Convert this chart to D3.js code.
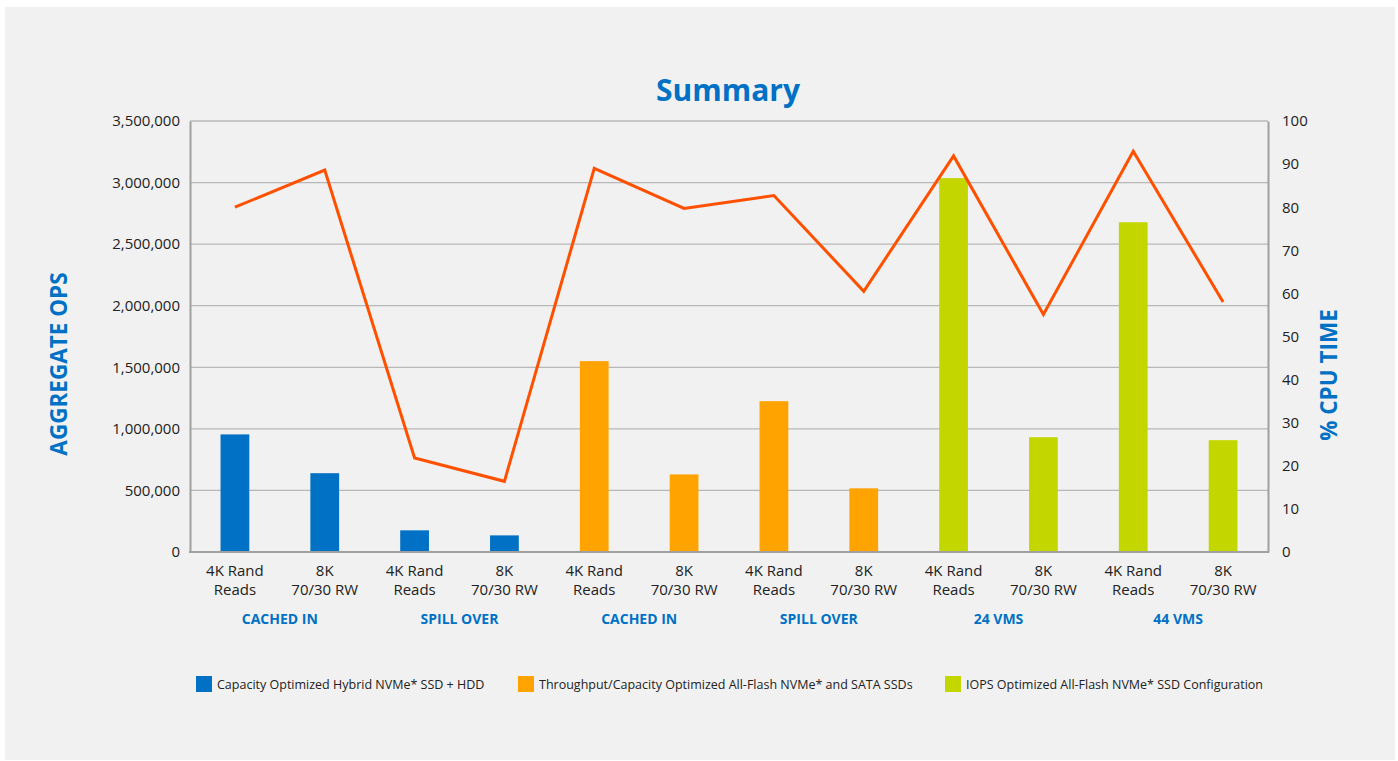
<!DOCTYPE html>
<html>
<head>
<meta charset="utf-8">
<script src="https://cdn.jsdelivr.net/npm/d3@7"></script>
<style>
  body { margin: 0; background: #fff; }
  svg text { font-family: "Open Sans", "Noto Sans", sans-serif; }
</style>
</head>
<body>
<svg id="chart" width="1398" height="761"></svg>
<script>
// tests and groups along the bottom
var tests = ['4K Rand|Reads', '8K|70/30 RW', '4K Rand|Reads', '8K|70/30 RW',
             '4K Rand|Reads', '8K|70/30 RW', '4K Rand|Reads', '8K|70/30 RW',
             '4K Rand|Reads', '8K|70/30 RW', '4K Rand|Reads', '8K|70/30 RW'];
var groups = ['CACHED IN', 'SPILL OVER', 'CACHED IN', 'SPILL OVER', '24 VMS', '44 VMS'];

// which configuration each bar belongs to
var configs = ['Capacity Optimized Hybrid NVMe* SSD + HDD',
               'Throughput/Capacity Optimized All-Flash NVMe* and SATA SSDs',
               'IOPS Optimized All-Flash NVMe* SSD Configuration'];
var configOf = [0, 0, 0, 0, 1, 1, 1, 1, 2, 2, 2, 2];

var ops = [955000, 640000, 176000, 135000, 1550000, 630000,
           1225000, 517000, 3036000, 932000, 2678000, 908000];
var cpu = [80.0, 88.6, 21.8, 16.4, 89.0, 79.7, 82.7, 60.5, 91.9, 55.1, 93.0, 58.0];

var opsTicks = [0, 500000, 1000000, 1500000, 2000000, 2500000, 3000000, 3500000];
var cpuTicks = [0, 10, 20, 30, 40, 50, 60, 70, 80, 90, 100];

var colors = ['#0071c5', '#ffa300', '#c4d600'];
var blue = '#0071c5';

(function() {
    var svg = d3.select('#chart');
    var left = 190, right = 1268, plotTop = 121, bottom = 552;

    svg.append('rect')
        .attr('x', 5).attr('y', 7).attr('width', 1390).attr('height', 753)
        .attr('fill', '#f1f1f1');

    var x = d3.scaleBand().domain(d3.range(tests.length)).range([left, right])
            .paddingInner(0.68).paddingOuter(0.34);
    var y = d3.scaleLinear().domain([0, 3500000]).range([bottom, plotTop]);
    var y2 = d3.scaleLinear().domain([0, 100]).range([bottom, plotTop]);

    // gridlines
    svg.append('g').selectAll('line').data(opsTicks.slice(1))
        .join('line')
        .attr('x1', left).attr('x2', right)
        .attr('y1', d => y(d)).attr('y2', d => y(d))
        .attr('stroke', '#b8b8b8').attr('stroke-width', 1.3);

    // left axis
    var yAxis = svg.append('g')
        .attr('transform', 'translate(' + left + ',0)')
        .call(d3.axisLeft(y).tickValues(opsTicks).tickFormat(d3.format(',')).tickSize(0).tickPadding(10));
    yAxis.select('.domain').attr('stroke', '#a0a0a0').attr('stroke-width', 2);
    yAxis.selectAll('text').attr('font-size', 15).attr('fill', '#222')
        .style('font-family', '"Open Sans", sans-serif');

    // right axis
    var y2Axis = svg.append('g')
        .attr('transform', 'translate(' + right + ',0)')
        .call(d3.axisRight(y2).tickValues(cpuTicks).tickSize(0).tickPadding(14));
    y2Axis.select('.domain').attr('stroke', '#a0a0a0').attr('stroke-width', 2);
    y2Axis.selectAll('text').attr('font-size', 15).attr('fill', '#222')
        .style('font-family', '"Open Sans", sans-serif');

    // bottom line
    svg.append('line')
        .attr('x1', left - 1).attr('x2', right + 1)
        .attr('y1', y(0)).attr('y2', y(0))
        .attr('stroke', '#a0a0a0').attr('stroke-width', 2);

    // bars
    svg.append('g').selectAll('rect').data(ops)
        .join('rect')
        .attr('x', (d, i) => x(i))
        .attr('width', x.bandwidth())
        .attr('y', d => y(d))
        .attr('height', d => y(0) - y(d) - 1)
        .attr('fill', (d, i) => colors[configOf[i]]);

    // cpu line
    var line = d3.line()
        .x((d, i) => x(i) + x.bandwidth() / 2)
        .y(d => y2(d));
    svg.append('path').datum(cpu)
        .attr('d', line)
        .attr('fill', 'none')
        .attr('stroke', '#ff5000')
        .attr('stroke-width', 3);

    // category labels, two lines each
    svg.append('g').selectAll('text').data(tests)
        .join('text')
        .attr('text-anchor', 'middle')
        .attr('font-size', 15)
        .attr('fill', '#222')
        .each(function(d, i) {
            var cx = x(i) + x.bandwidth() / 2;
            d3.select(this).selectAll('tspan').data(d.split('|'))
                .join('tspan')
                .attr('x', cx)
                .attr('y', (p, j) => 576 + j * 19)
                .text(p => p);
        });

    // group labels
    var step = x.step();
    svg.append('g').selectAll('text').data(groups)
        .join('text')
        .attr('x', (d, i) => left + step * (2 * i + 1))
        .attr('y', 624)
        .attr('text-anchor', 'middle')
        .attr('font-size', 14)
        .attr('font-weight', 'bold')
        .attr('fill', blue)
        .text(d => d);

    // title
    svg.append('text')
        .attr('x', 728).attr('y', 101)
        .attr('text-anchor', 'middle')
        .attr('font-size', 30)
        .attr('font-weight', 'bold')
        .attr('fill', blue)
        .text('Summary');

    // axis titles
    svg.append('text')
        .attr('transform', 'translate(67,364) rotate(-90)')
        .attr('text-anchor', 'middle')
        .attr('font-size', 22.5)
        .attr('font-weight', 'bold')
        .attr('fill', blue)
        .text('AGGREGATE OPS');
    svg.append('text')
        .attr('transform', 'translate(1337,375) rotate(-90)')
        .attr('text-anchor', 'middle')
        .attr('font-size', 22.5)
        .attr('font-weight', 'bold')
        .attr('fill', blue)
        .text('% CPU TIME');

    // legend
    var legendX = [196, 518, 945];
    var legend = svg.append('g').selectAll('g').data(configs)
        .join('g')
        .attr('transform', (d, i) => 'translate(' + legendX[i] + ',676)');
    legend.append('rect')
        .attr('width', 16).attr('height', 16)
        .attr('fill', (d, i) => colors[i]);
    legend.append('text')
        .attr('x', 21).attr('y', 13)
        .attr('font-size', 12.5)
        .attr('fill', '#222')
        .text(d => d);
})();
</script>
</body>
</html>
